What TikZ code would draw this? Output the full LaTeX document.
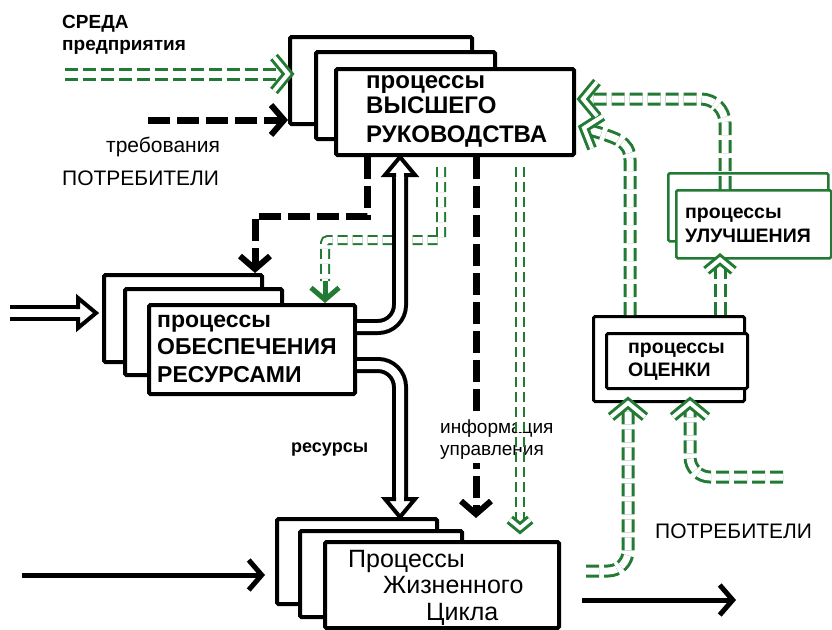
\documentclass[tikz,border=0pt]{standalone}
\usepackage{fontspec}
\setmainfont{Liberation Sans}
\usetikzlibrary{arrows.meta,positioning,calc}
\definecolor{procgreen}{RGB}{34,122,52}
\tikzset{
  stack/.style={draw, fill=white, line width=4pt, rounded corners=1.5pt, inner sep=0pt, anchor=north west},
  thinstack/.style={stack, line width=3pt},
  greenstack/.style={stack, draw=procgreen, line width=2.5pt},
  boxtext/.style={anchor=base west, align=left, inner sep=0pt},
  blkdash/.style={line width=7pt, dash pattern=on 22pt off 7pt, -{Straight Barb[length=13pt, width=30pt, line width=6pt]}},
  blkline/.style={line width=5pt, -{Straight Barb[length=13pt, width=30pt, line width=5pt]}},
  hollowline/.style={line width=4pt, double=white, double distance=8pt},
  hollowtip/.style={line width=4pt, fill=white, line join=miter},
  grndouble/.style={draw=procgreen, line width=3pt, double=white, double distance=7pt, dash pattern=on 13pt off 5pt, shorten >=4pt},
  grnthin/.style={draw=procgreen, line width=2pt, double=white, double distance=6pt, dash pattern=on 10pt off 5pt},
  grnhead/.style={draw=procgreen, line width=3pt, double=white, double distance=4pt, line join=miter},
  grnbarb/.style={draw=procgreen, line width=5pt, -{Straight Barb[length=12pt, width=28pt, line width=5pt]}}
}
% open block arrow head, apex at #1, direction #2
\newcommand{\hollowhead}[2]{%
  \draw[hollowtip, shift={#1}, rotate=#2] (-20,-6) -- (-18,-6) -- (-18,-15) -- (0,0) -- (-18,15) -- (-18,6) -- (-20,6);}
% green double chevron, apex at #2, direction #3
\newcommand{\greenhead}[3][1]{%
  \draw[grnhead, shift={#2}, rotate=#3, scale=#1] (-14,-17) -- (0,0) -- (-14,17);}
\begin{document}
\begin{tikzpicture}[x=1pt, y=-1pt]
  \useasboundingbox (0,0) rectangle (832,629);

  % top management
  \node[stack, minimum width=182pt, minimum height=87pt] (topback) at (288,35) {};
  \node[stack, minimum width=179pt, minimum height=87pt] (topmid) at (314,50) {};
  \node[stack, minimum width=238pt, minimum height=86pt] (top) at (334,67) {};
  \node[boxtext, font=\bfseries\fontsize{24pt}{25pt}\selectfont] (toplbl) at (366,142) {процессы\\ВЫСШЕГО\\[4pt]РУКОВОДСТВА};

  % resources
  \node[stack, minimum width=158pt, minimum height=87pt] (resback) at (102,273) {};
  \node[stack, minimum width=157pt, minimum height=86pt] (resmid) at (123,287) {};
  \node[stack, minimum width=206pt, minimum height=89pt] (res) at (147,303) {};
  \node[boxtext, font=\bfseries\fontsize{23pt}{27.5pt}\selectfont] (reslbl) at (157,382) {процессы\\ОБЕСПЕЧЕНИЯ\\РЕСУРСАМИ};

  % life cycle
  \node[stack, minimum width=160pt, minimum height=85pt] (lifeback) at (275,517) {};
  \node[stack, minimum width=162pt, minimum height=86pt] (lifemid) at (298,529) {};
  \node[stack, minimum width=234pt, minimum height=86pt] (life) at (323,540) {};
  \node[boxtext, font=\fontsize{25pt}{26.5pt}\selectfont] (lifelbl) at (348,620) {Процессы\\\hspace*{35pt}Жизненного\\\hspace*{78pt}Цикла};

  % evaluation
  \node[thinstack, minimum width=151pt, minimum height=85pt] (evalback) at (592,315) {};
  \node[thinstack, minimum width=141pt, minimum height=55pt] (eval) at (605,332) {};
  \node[boxtext, font=\bfseries\fontsize{19.5pt}{23pt}\selectfont] (evallbl) at (628,376) {процессы\\ОЦЕНКИ};

  % improvement
  \node[greenstack, minimum width=160pt, minimum height=68pt] (imprback) at (667,172) {};
  \node[greenstack, minimum width=155pt, minimum height=68pt] (impr) at (675,189) {};
  \node[boxtext, font=\bfseries\fontsize{19.5pt}{24pt}\selectfont] (imprlbl) at (685,242) {процессы\\УЛУЧШЕНИЯ};

  % outside labels
  \node[boxtext, font=\bfseries\fontsize{19pt}{22pt}\selectfont] (env) at (62,50) {СРЕДА\\предприятия};
  \node[boxtext, font=\fontsize{21pt}{24pt}\selectfont] (req) at (106,152) {требования};
  \node[boxtext, font=\fontsize{21pt}{24pt}\selectfont] (custleft) at (62,185) {ПОТРЕБИТЕЛИ};
  \node[boxtext, font=\fontsize{21pt}{24pt}\selectfont] (custright) at (655,538) {ПОТРЕБИТЕЛИ};
  \node[boxtext, font=\bfseries\fontsize{18pt}{22pt}\selectfont] (reslabel) at (291,452) {ресурсы};

  % inputs
  \coordinate (envin) at (65,74);
  \coordinate (reqin) at (148,120);
  \coordinate (supin) at (10,313);
  \coordinate (lifein) at (22,575);
  \coordinate (lifeout) at (736,600);
  \draw[grndouble] (envin) -- (envin -| topback.west);
  \greenhead{(envin -| topback.west)}{0}
  \draw[blkdash] (reqin) -- (reqin -| topback.west);
  \draw[hollowline, shorten >=24pt] (supin) -- (supin -| resback.west);
  \hollowhead{($(supin -| resback.west)+(-6,0)$)}{0}
  \draw[blkline, shorten >=10pt] (lifein) -- (lifein -| lifeback.west);
  \draw[blkline, shorten <=21pt] (life.east |- lifeout) -- (lifeout);

  % management to resources
  \draw[blkdash] (367,0 |- top.south) |- (255,216) -- (255,0 |- resback.north);
  \coordinate (grnturn) at (325,281);
  \draw[grnthin, shorten <=10pt, rounded corners=3pt] (441,0 |- top.south) |- (325,240) -- (grnturn);
  \draw[grnbarb] (grnturn) -- (325,0 |- res.north);

  % resources up and down
  \draw[hollowline, rounded corners=22pt, shorten >=18pt] (res.east |- 0,327) -| (400,0 |- top.south);
  \hollowhead{(400,0 |- top.south)}{90}
  \draw[hollowline, rounded corners=22pt, shorten >=18pt] (res.east |- 0,365) -| (400,0 |- lifeback.north);
  \hollowhead{(400,0 |- lifeback.north)}{-90}

  % control information
  \draw[blkdash, shorten >=22pt] (476,0 |- top.south) -- (476,0 |- life.north);
  \node[boxtext, fill=white, inner xsep=2pt, inner ysep=4pt, font=\fontsize{19pt}{22pt}\selectfont] (ctrl) at (438,455) {информация\\управления};
  \draw[grnthin, shorten <=10pt, shorten >=14pt] (520,0 |- top.south) -- (520,0 |- life.north);
  \greenhead[0.6]{($(520,0 |- life.north)+(0,-12)$)}{-90}

  % evaluation and improvement loops
  \coordinate (evalout) at (584,128);
  \coordinate (improut) at (583,99);
  \coordinate (custfb) at (586,571);
  \coordinate (custin) at (783,477);
  \draw[grndouble] (630,0 |- evalback.north) -- (630,160) .. controls (630,140) and (615,138) .. (evalout);
  \greenhead{(evalout)}{162}
  \draw[grndouble, rounded corners=24pt] (725,0 |- impr.north) |- (improut);
  \greenhead{(improut)}{180}
  \draw[grndouble] (720,0 |- evalback.north) -- (720,0 |- impr.south);
  \greenhead[0.8]{(720,0 |- impr.south)}{90}
  \draw[grndouble, rounded corners=20pt] (custfb) -| (628,0 |- evalback.south);
  \greenhead{(628,0 |- evalback.south)}{90}
  \draw[grndouble, rounded corners=20pt] (custin) -| (690,0 |- evalback.south);
  \greenhead{(690,0 |- evalback.south)}{90}
\end{tikzpicture}
\end{document}
